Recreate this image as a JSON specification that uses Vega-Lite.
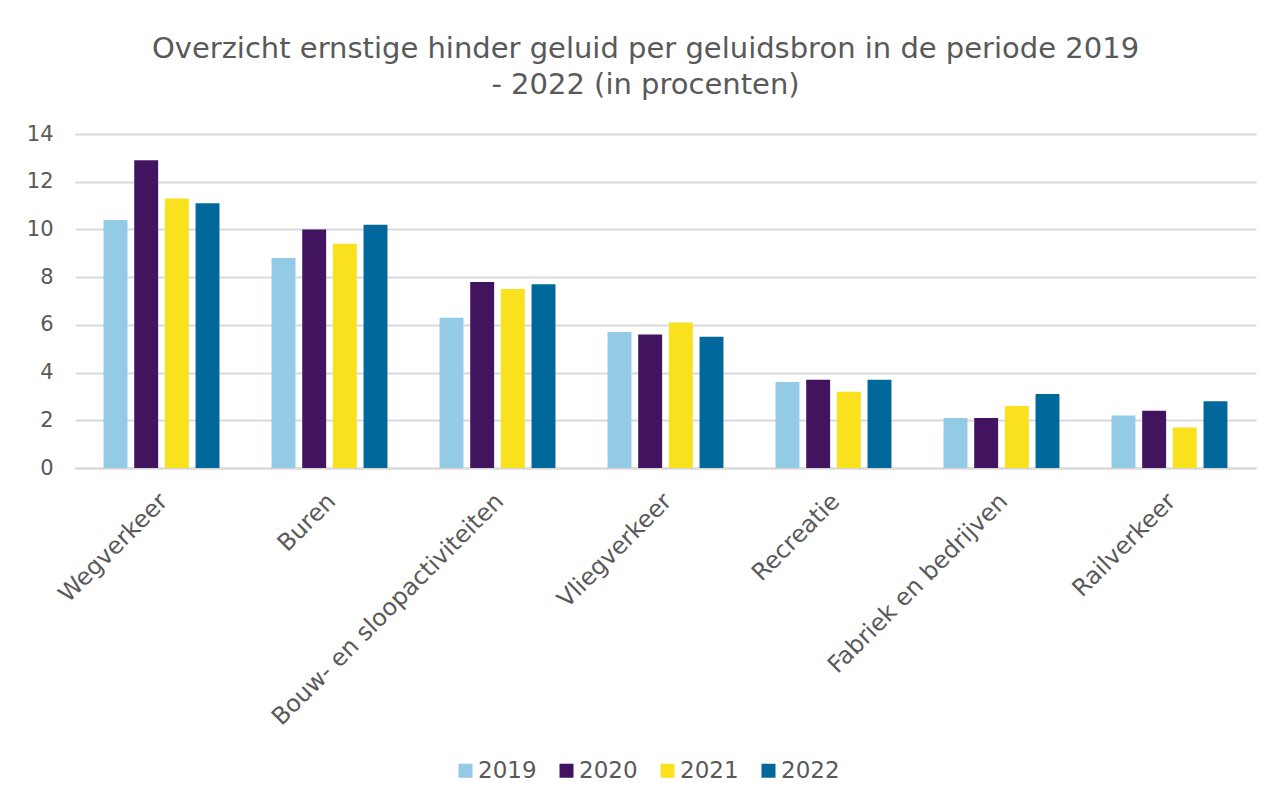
{
  "$schema": "https://vega.github.io/schema/vega-lite/v6.json",
  "autosize": {"type": "none"},
  "width": 1181,
  "height": 334,
  "padding": {"left": 75, "top": 134, "right": 29, "bottom": 337},
  "background": "white",
  "title": {
    "text": ["Overzicht ernstige hinder geluid per geluidsbron in de periode 2019", "- 2022 (in procenten)"],
    "anchor": "middle",
    "dx": -20,
    "offset": 23,
    "font": "DejaVu Sans",
    "fontSize": 29,
    "fontWeight": "normal",
    "color": "#595959",
    "lineHeight": 36
  },
  "data": {
    "values": [
      {"bron": "Wegverkeer", "jaar": "2019", "waarde": 10.4},
      {"bron": "Wegverkeer", "jaar": "2020", "waarde": 12.9},
      {"bron": "Wegverkeer", "jaar": "2021", "waarde": 11.3},
      {"bron": "Wegverkeer", "jaar": "2022", "waarde": 11.1},
      {"bron": "Buren", "jaar": "2019", "waarde": 8.8},
      {"bron": "Buren", "jaar": "2020", "waarde": 10.0},
      {"bron": "Buren", "jaar": "2021", "waarde": 9.4},
      {"bron": "Buren", "jaar": "2022", "waarde": 10.2},
      {"bron": "Bouw- en sloopactiviteiten", "jaar": "2019", "waarde": 6.3},
      {"bron": "Bouw- en sloopactiviteiten", "jaar": "2020", "waarde": 7.8},
      {"bron": "Bouw- en sloopactiviteiten", "jaar": "2021", "waarde": 7.5},
      {"bron": "Bouw- en sloopactiviteiten", "jaar": "2022", "waarde": 7.7},
      {"bron": "Vliegverkeer", "jaar": "2019", "waarde": 5.7},
      {"bron": "Vliegverkeer", "jaar": "2020", "waarde": 5.6},
      {"bron": "Vliegverkeer", "jaar": "2021", "waarde": 6.1},
      {"bron": "Vliegverkeer", "jaar": "2022", "waarde": 5.5},
      {"bron": "Recreatie", "jaar": "2019", "waarde": 3.6},
      {"bron": "Recreatie", "jaar": "2020", "waarde": 3.7},
      {"bron": "Recreatie", "jaar": "2021", "waarde": 3.2},
      {"bron": "Recreatie", "jaar": "2022", "waarde": 3.7},
      {"bron": "Fabriek en bedrijven", "jaar": "2019", "waarde": 2.1},
      {"bron": "Fabriek en bedrijven", "jaar": "2020", "waarde": 2.1},
      {"bron": "Fabriek en bedrijven", "jaar": "2021", "waarde": 2.6},
      {"bron": "Fabriek en bedrijven", "jaar": "2022", "waarde": 3.1},
      {"bron": "Railverkeer", "jaar": "2019", "waarde": 2.2},
      {"bron": "Railverkeer", "jaar": "2020", "waarde": 2.4},
      {"bron": "Railverkeer", "jaar": "2021", "waarde": 1.7},
      {"bron": "Railverkeer", "jaar": "2022", "waarde": 2.8}
    ]
  },
  "mark": {"type": "bar"},
  "encoding": {
    "x": {
      "field": "bron",
      "type": "nominal",
      "sort": null,
      "scale": {"paddingInner": 0.31, "paddingOuter": 0.17},
      "axis": {
        "title": null,
        "labelAngle": -45,
        "labelFont": "DejaVu Sans",
        "labelFontSize": 23.8,
        "labelColor": "#595959",
        "ticks": false,
        "domainColor": "#D9D9D9",
        "domainWidth": 2,
        "labelPadding": 21,
        "labelOffset": -6,
        "labelLimit": 400
      }
    },
    "xOffset": {
      "field": "jaar",
      "type": "nominal",
      "scale": {"paddingInner": 0.22}
    },
    "y": {
      "field": "waarde",
      "type": "quantitative",
      "scale": {"domain": [0, 14]},
      "axis": {
        "title": null,
        "values": [0, 2, 4, 6, 8, 10, 12, 14],
        "labelFont": "DejaVu Sans",
        "labelFontSize": 21,
        "labelColor": "#595959",
        "ticks": false,
        "domain": false,
        "gridColor": "#D9D9D9",
        "gridWidth": 2,
        "labelPadding": 22
      }
    },
    "color": {
      "field": "jaar",
      "type": "nominal",
      "scale": {"domain": ["2019", "2020", "2021", "2022"], "range": ["#93CBE6", "#42145F", "#F9E11E", "#01689B"]},
      "legend": {
        "title": null,
        "orient": "none",
        "direction": "horizontal",
        "legendX": 379,
        "legendY": 625,
        "symbolType": "square",
        "symbolSize": 196,
        "symbolStrokeWidth": 0,
        "labelFont": "DejaVu Sans",
        "labelFontSize": 23,
        "labelColor": "#595959",
        "columnPadding": 18,
        "labelOffset": 1
      }
    }
  },
  "config": {
    "view": {"stroke": null}
  }
}
